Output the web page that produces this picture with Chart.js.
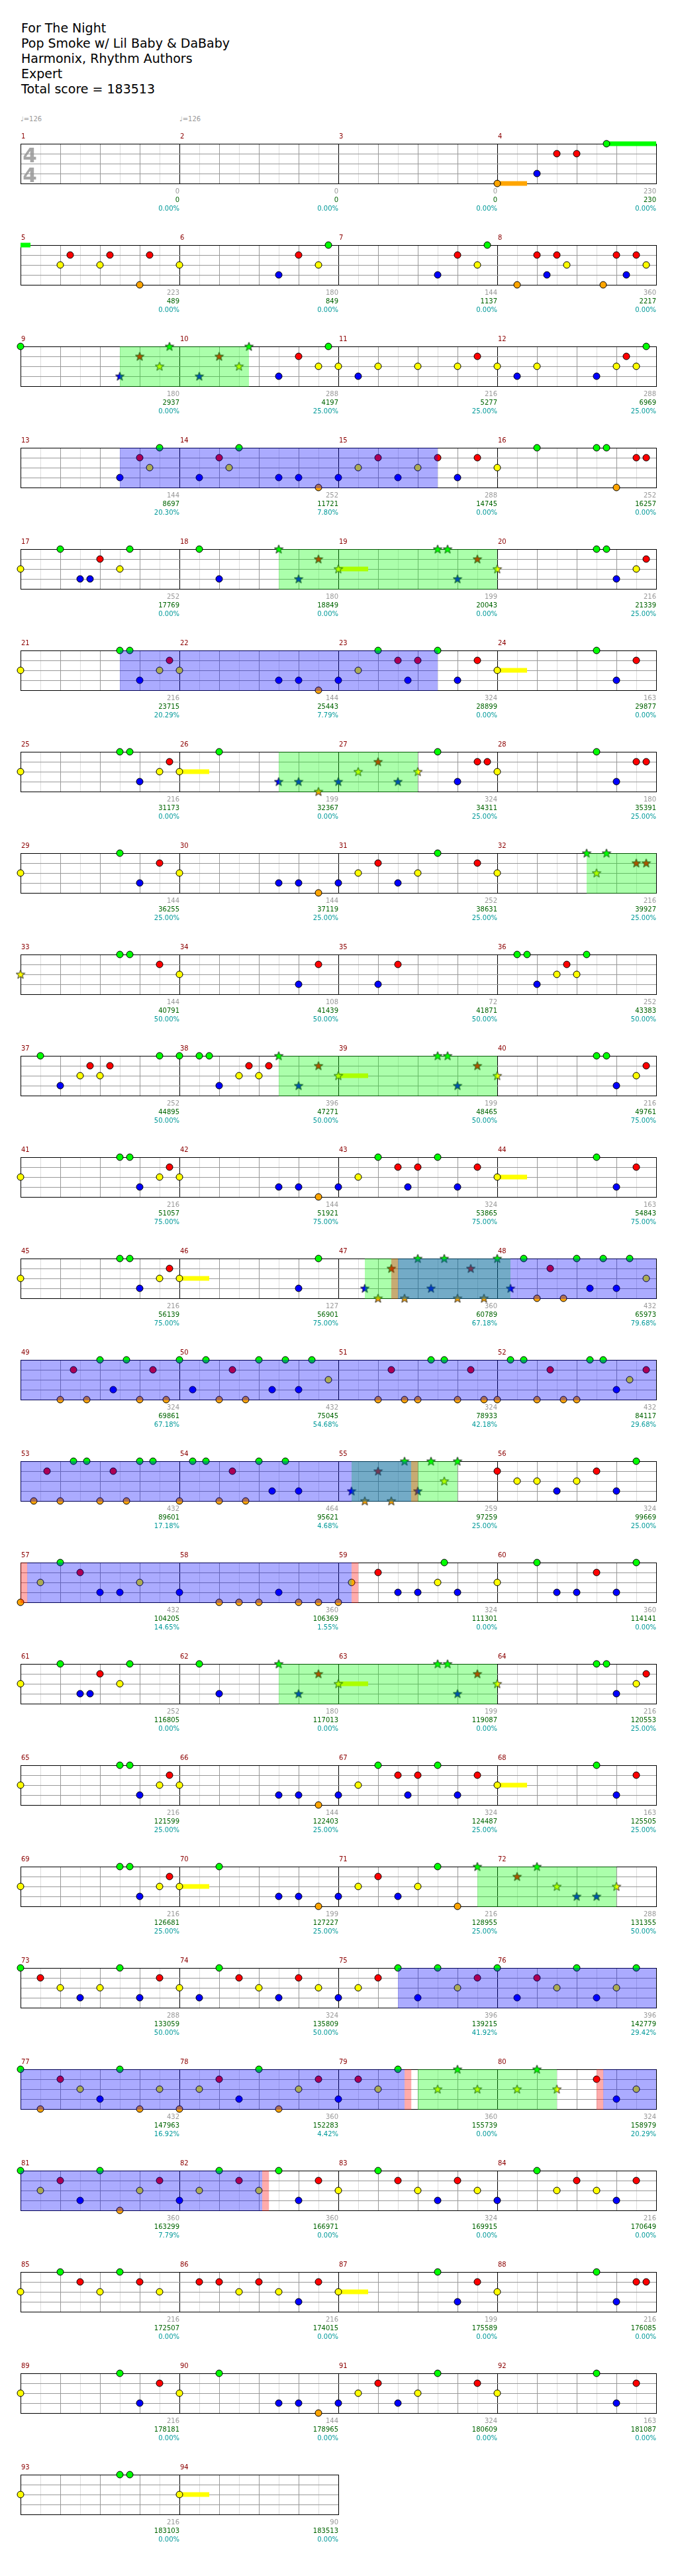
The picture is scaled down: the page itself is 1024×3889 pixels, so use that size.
<!DOCTYPE html>
<html>
<head>
<meta charset="utf-8">
<script src="https://cdn.jsdelivr.net/npm/chart.js@4.4.0/dist/chart.umd.min.js"></script>
<style>
  body { margin: 0; background: #fff; width: 1024px; height: 3889px; position: relative; overflow: hidden; font-family: "DejaVu Sans", sans-serif; }
  #header { position: absolute; left: 32px; top: 31px; font-size: 19px; line-height: 23px; color: #000; white-space: nowrap; }
  .tempo { position: absolute; top: 174px; font-size: 10px; line-height: 12px; color: #999; }
  canvas.row { position: absolute; left: 0; }
</style>
</head>
<body>
<div id="header">For The Night<br>Pop Smoke w/ Lil Baby &amp; DaBaby<br>Harmonix, Rhythm Authors<br>Expert<br>Total score = 183513</div>
<div class="tempo" style="left:31px">&#9833;=126</div>
<div class="tempo" style="left:271px">&#9833;=126</div>
<script>
// one string per measure: lane letter + beat, lower case = star note, ~n = sustain length in beats
const measureNotes = [
  '', '', '', 'O0~0.75 B1 R1.5 R2 G2.75~1.5',
  'Y1 R1.25 Y2 R2.25 O3 R3.25', 'Y0 B2.5 R3 Y3.5 G3.75', 'B2.5 R3 Y3.5 G3.75', 'O0.5 R1 B1.25 R1.5 Y1.75 O2.67 R3 B3.25 R3.5 Y3.75',
  'G0 b2.5 r3 y3.5 g3.75', 'b0.5 r1 y1.5 g1.75 B2.5 R3 Y3.5 G3.75', 'Y0 B0.5 Y1 Y2 Y3 R3.5', 'Y0 B0.5 Y1 B2.5 Y3 R3.25 Y3.5 G3.75',
  'B2.5 R3 Y3.25 G3.5', 'B0.5 R1 Y1.25 G1.5 B2.5 B3 O3.5', 'B0 Y0.5 R1 B1.5 Y2 R2.5 B3 R3.5', 'Y0 G1 G2.5 G2.75 O3 R3.5 R3.75',
  'Y0 G1 B1.5 B1.75 R2 Y2.5 G2.75', 'G0.5 B1 g2.5 b3 r3.5', 'y0~0.75 g2.5 g2.75 b3 r3.5', 'y0 G2.5 G2.75 B3 Y3.5 R3.75',
  'Y0 G2.5 G2.75 B3 Y3.5 R3.75', 'Y0 B2.5 B3 O3.5', 'B0 Y0.5 G1 R1.5 B1.75 R2 G2.5 B3 R3.5', 'Y0~0.75 G2.5 B3 R3.5',
  'Y0 G2.5 G2.75 B3 Y3.5 R3.75', 'Y0~0.75 G1 b2.5 b3 o3.5', 'b0 y0.5 r1 b1.5 y2 G2.5 B3 R3.5 R3.75', 'Y0 G2.5 B3 R3.5 R3.75',
  'Y0 G2.5 B3 R3.5', 'Y0 B2.5 B3 O3.5', 'B0 Y0.5 R1 B1.5 Y2 G2.5 R3.5', 'Y0 g2.25 y2.5 g2.75 r3.5 r3.75',
  'y0 G2.5 G2.75 R3.5', 'Y0 B3 R3.5', 'B1 R1.5', 'G0.5 G0.75 B1 Y1.5 R1.75 Y2 G2.25',
  'G0.5 B1 Y1.5 R1.75 Y2 R2.25 G3.5', 'G0 G0.5 G0.75 B1 Y1.5 R1.75 Y2 R2.25 g2.5 b3 r3.5', 'y0~0.75 g2.5 g2.75 b3 r3.5', 'y0 G2.5 G2.75 B3 Y3.5 R3.75',
  'Y0 G2.5 G2.75 B3 Y3.5 R3.75', 'Y0 B2.5 B3 O3.5', 'B0 Y0.5 G1 R1.5 B1.75 R2 G2.5 B3 R3.5', 'Y0~0.75 G2.5 B3 R3.5',
  'Y0 G2.5 G2.75 B3 Y3.5 R3.75', 'Y0~0.75 B3 G3.5', 'b0.67 o1 r1.33 o1.67 g2 b2.33 g2.67 o3 r3.33 o3.67', 'g0 b0.33 G0.67 O1 R1.33 O1.67 G2 B2.33 G2.67 B3 G3.33 Y3.75',
  'O1 R1.33 O1.67 G2 B2.33 G2.67 O3 R3.33 O3.67', 'G0 B0.33 G0.67 O1 R1.33 O1.67 G2 B2.33 G2.67 B3 G3.33 Y3.75', 'O1 R1.33 O1.67 O2 G2.33 G2.67 O3 R3.33 O3.67', 'O0 G0.33 G0.67 O1 R1.33 O1.67 O2 G2.33 G2.67 B3 Y3.33 R3.75',
  'O0.33 R0.67 O1 G1.33 G1.67 O2 R2.33 O2.67 G3 G3.33', 'O0 G0.33 G0.67 O1 R1.33 O1.67 G2 B2.33 G2.67 B3', 'b0.33 o0.67 r1 o1.33 g1.67 b2 g2.33 y2.67 g3', 'R0 Y0.5 Y1 B1.5 Y2 R2.5 B3 G3.5',
  'O0 Y0.5 G1 R1.5 B2 B2.5 Y3', 'B0 O1 O1.5 O2 B2.5 O3 O3.5', 'O0 Y0.33 R1 B1.5 B2 Y2.5 G2.67 B3', 'Y0 G1 B1.5 B2 R2.5 B3 G3.5',
  'Y0 G1 B1.5 B1.75 R2 Y2.5 G2.75', 'G0.5 B1 g2.5 b3 r3.5', 'y0~0.75 g2.5 g2.75 b3 r3.5', 'y0 G2.5 G2.75 B3 Y3.5 R3.75',
  'Y0 G2.5 G2.75 B3 Y3.5 R3.75', 'Y0 B2.5 B3 O3.5', 'B0 Y0.5 G1 R1.5 B1.75 R2 G2.5 B3 R3.5', 'Y0~0.75 G2.5 B3 R3.5',
  'Y0 G2.5 G2.75 B3 Y3.5 R3.75', 'Y0~0.75 G1 B2.5 B3 O3.5', 'B0 Y0.5 R1 B1.5 Y2 G2.5 O3 g3.5', 'r0.5 g1 y1.5 b2 b2.5 y3',
  'G0 R0.5 Y1 B1.5 Y2 G2.5 B3 R3.5', 'Y0 B0.5 G1 R1.5 Y2 B2.5 R3 Y3.5', 'B0 Y0.5 R1 G1.5 B2 G2.5 Y3 R3.5', 'G0 B0.5 R1 Y1.5 G2 B2.5 Y3 G3.5',
  'G0 O0.5 R1 Y1.5 B2 G2.5 O3 Y3.5', 'O0 Y0.5 R1 B1.5 G2 O2.5 Y3 R3.5', 'B0 R0.5 Y1 G1.5 y2.5 g3 y3.5', 'y0.5 g1 y1.5 R2.5 B3 Y3.5',
  'G0 Y0.5 R1 B1.5 G2 O2.5 Y3 R3.5', 'B0 Y0.5 G1 R1.5 Y2 G2.5 B3 R3.5', 'Y0 G1 R1.5 Y2 B2.5 R3 Y3.5', 'B0 G1 Y1.5 R2 Y2.5 B3 R3.5',
  'Y0 G1 R1.5 Y2 G2.5 R3 Y3.5', 'R0.5 R1 Y1.5 R2 Y2.5 B3 R3.5', 'Y0~0.75 G2.5 B3 R3.5', 'Y0 G2.5 B3 R3.5 R3.75',
  'Y0 G2.5 B3 R3.5', 'Y0 G1 B2.5 B3 O3.5', 'B0 Y0.5 R1 B1.5 Y2 G2.5 R3.5', 'Y0 G2.5 B3 R3.5',
  'Y0 G2.5 G2.75', 'Y0~0.75'
];

const measureScores = [
  0, 0, 0, 230, 223, 180, 144, 360, 180, 288, 216, 288, 144, 252, 288, 252,
  252, 180, 199, 216, 216, 144, 324, 163, 216, 199, 324, 180, 144, 144, 252, 216,
  144, 108, 72, 252, 252, 396, 199, 216, 216, 144, 324, 163, 216, 127, 360, 432,
  324, 432, 324, 432, 432, 464, 259, 324, 432, 360, 324, 360, 252, 180, 199, 216,
  216, 144, 324, 163, 216, 199, 216, 288, 288, 324, 396, 396, 432, 360, 360, 324,
  360, 360, 324, 216, 216, 216, 199, 216, 216, 144, 324, 163, 216, 90
];
const totalScores = [
  0, 0, 0, 230, 489, 849, 1137, 2217, 2937, 4197, 5277, 6969, 8697, 11721, 14745, 16257,
  17769, 18849, 20043, 21339, 23715, 25443, 28899, 29877, 31173, 32367, 34311, 35391, 36255, 37119, 38631, 39927,
  40791, 41439, 41871, 43383, 44895, 47271, 48465, 49761, 51057, 51921, 53865, 54843, 56139, 56901, 60789, 65973,
  69861, 75045, 78933, 84117, 89601, 95621, 97259, 99669, 104205, 106369, 111301, 114141, 116805, 117013, 119087, 120553,
  121599, 122403, 124487, 125505, 126681, 127227, 128955, 131355, 133059, 135809, 139215, 142779, 147963, 152283, 155739, 158979,
  163299, 166971, 169915, 170649, 172507, 174015, 175589, 176085, 178181, 178965, 180609, 181087, 183103, 183513
];
const percents = [
  0, 0, 0, 0, 0, 0, 0, 0, 0, 25, 25, 25, 20.30, 7.80, 0, 0,
  0, 0, 0, 25, 20.29, 7.79, 0, 0, 0, 0, 25, 25, 25, 25, 25, 25,
  50, 50, 50, 50, 50, 50, 50, 75, 75, 75, 75, 75, 75, 75, 67.18, 79.68,
  67.18, 54.68, 42.18, 29.68, 17.18, 4.68, 25, 25, 14.65, 1.55, 0, 0, 0, 0, 0, 25,
  25, 25, 25, 25, 25, 25, 25, 50, 50, 50, 41.92, 29.42, 16.92, 4.42, 0, 20.29,
  7.79, 0, 0, 0, 0, 0, 0, 0, 0, 0, 0, 0, 0, 0
];

// [measure, beat, measure, beat]
const starPhrases = [
  [9, 2.5, 10, 1.75], [18, 2.5, 20, 0], [26, 2.5, 27, 2], [32, 2.25, 33, 0],
  [38, 2.5, 40, 0], [47, 0.67, 48, 0.33], [55, 0.33, 55, 3], [62, 2.5, 64, 0],
  [71, 3.5, 72, 3], [79, 2, 80, 1.5]
];
const activations = [
  [13, 2.5, 15, 2.5], [21, 2.5, 23, 2.5], [47, 1.5, 55, 1.83], [57, 0.17, 59, 0.3],
  [75, 1.5, 79, 1.7], [80, 2.67, 82, 2.1]
];
// [measure, beat] of the red activation marks
const activationMarks = [[47, 1.33], [55, 1.83], [57, 0], [59, 0.3], [79, 1.7], [80, 2.5], [82, 2.1]];

const laneColors = ['#00ff00', '#ff0000', '#ffff00', '#0000ff', '#ffa500'];
const starColors = ['#00ff00', '#ff0000', '#ffff00', '#0000ff', '#ffa500'];

function makeStar(fill) {
  const c = document.createElement('canvas');
  c.width = 15; c.height = 15;
  const g = c.getContext('2d');
  g.beginPath();
  for (let i = 0; i < 10; i++) {
    const rad = i % 2 ? 2.9 : 7;
    const a = -Math.PI / 2 + i * Math.PI / 5;
    g.lineTo(7.5 + rad * Math.cos(a), 8 + rad * Math.sin(a));
  }
  g.closePath();
  g.fillStyle = fill;
  g.fill();
  g.strokeStyle = '#222';
  g.lineWidth = 1;
  g.stroke();
  return c;
}
const starImages = starColors.map(makeStar);

const snap = v => Math.round(v * 12) / 12;
const absBeat = (m, b) => (m - 1) * 4 + snap(b);

const notes = [];
measureNotes.forEach((s, i) => {
  s.split(' ').filter(Boolean).forEach(tok => {
    const m = tok.match(/^([GRYBOgrybo])([\d.]+)(?:~([\d.]+))?$/);
    notes.push({
      beat: i * 4 + snap(+m[2]),
      lane: 'GRYBO'.indexOf(m[1].toUpperCase()),
      star: m[1] !== m[1].toUpperCase(),
      len: m[3] ? +m[3] : 0
    });
  });
});

const ROW_TOP = 190, ROW_STEP = 153, STAFF_TOP = 27, STAFF_H = 60, LEFT = 31, MEASURE_W = 240;
const rowCount = Math.ceil(measureNotes.length / 4);

function clipRegion(list, r0, r1) {
  return list.map(a => [absBeat(a[0], a[1]), absBeat(a[2], a[3])])
    .filter(a => a[1] > r0 && a[0] < r1)
    .map(a => [Math.max(a[0], r0) - r0, Math.min(a[1], r1) - r0]);
}

for (let r = 0; r < rowCount; r++) {
  const firstMeasure = r * 4;
  const n = Math.min(4, measureNotes.length - firstMeasure);
  const r0 = firstMeasure * 4, r1 = r0 + n * 4;

  const rowNotes = notes.filter(p => p.beat >= r0 && p.beat < r1)
    .map(p => ({ x: p.beat - r0, y: p.lane, star: p.star }));

  const sustains = notes.filter(p => p.len > 0 && p.beat + p.len > r0 && p.beat < r1).map(p => ({
    type: 'line',
    data: [{ x: Math.max(p.beat, r0) - r0, y: p.lane }, { x: Math.min(p.beat + p.len, r1) - r0, y: p.lane }],
    borderColor: laneColors[p.lane],
    borderWidth: 7,
    borderCapStyle: 'butt',
    pointRadius: 0,
    clip: false,
    order: 2
  }));

  const greens = clipRegion(starPhrases, r0, r1);
  const blues = clipRegion(activations, r0, r1);
  const marks = activationMarks.map(a => absBeat(a[0], a[1])).filter(b => b >= r0 && b < r1).map(b => b - r0);

  const canvas = document.createElement('canvas');
  canvas.className = 'row';
  canvas.width = 1024;
  canvas.height = ROW_STEP;
  canvas.style.top = (ROW_TOP + r * ROW_STEP) + 'px';
  document.body.appendChild(canvas);

  const overlay = {
    id: 'overlay',
    afterDatasetsDraw(chart) {
      const { ctx, chartArea, scales } = chart;
      const fill = (list, color) => {
        ctx.fillStyle = color;
        list.forEach(a => {
          const x0 = scales.x.getPixelForValue(a[0]), x1 = scales.x.getPixelForValue(a[1]);
          ctx.fillRect(x0, chartArea.top, x1 - x0, chartArea.bottom - chartArea.top + 1);
        });
      };
      ctx.save();
      fill(greens, 'rgba(0,255,0,0.33)');
      fill(blues, 'rgba(0,0,255,0.33)');
      fill(marks.map(b => [b, b + 0.17]), 'rgba(255,0,0,0.33)');
      ctx.restore();
    },
    afterDraw(chart) {
      const { ctx, chartArea, scales } = chart;
      ctx.save();
      ctx.font = '10px "DejaVu Sans"';
      ctx.textBaseline = 'middle';
      for (let k = 0; k < n; k++) {
        const mi = firstMeasure + k;
        const xs = scales.x.getPixelForValue(k * 4), xe = scales.x.getPixelForValue(k * 4 + 4);
        ctx.textAlign = 'left';
        ctx.fillStyle = '#8b0000';
        ctx.fillText(String(mi + 1), xs + 1, chartArea.top - 11);
        ctx.textAlign = 'right';
        ctx.fillStyle = '#999999';
        ctx.fillText(String(measureScores[mi]), xe, chartArea.bottom + 12);
        ctx.fillStyle = '#006400';
        ctx.fillText(String(totalScores[mi]), xe, chartArea.bottom + 25);
        ctx.fillStyle = '#009999';
        ctx.fillText(percents[mi].toFixed(2) + '%', xe, chartArea.bottom + 38);
      }
      if (r === 0) {
        ctx.font = 'bold 31px "DejaVu Sans"';
        ctx.textAlign = 'center';
        ctx.textBaseline = 'alphabetic';
        ctx.fillStyle = 'rgba(150,150,150,0.85)';
        ctx.fillText('4', chartArea.left + 14, chartArea.top + 28);
        ctx.fillText('4', chartArea.left + 14, chartArea.top + 58);
      }
      ctx.restore();
    }
  };

  new Chart(canvas, {
    type: 'scatter',
    data: {
      datasets: [{
        data: rowNotes,
        pointStyle: c => c.raw && c.raw.star ? starImages[c.raw.y] : 'circle',
        pointRadius: 5,
        pointBackgroundColor: c => c.raw ? laneColors[c.raw.y] : '#000',
        pointBorderColor: '#000',
        pointBorderWidth: 1,
        clip: false,
        order: 1
      }, ...sustains]
    },
    options: {
      responsive: false,
      animation: false,
      events: [],
      layout: { padding: { left: LEFT, right: 1024 - LEFT - n * MEASURE_W, top: STAFF_TOP, bottom: ROW_STEP - STAFF_TOP - STAFF_H } },
      plugins: { legend: { display: false }, tooltip: { enabled: false } },
      scales: {
        x: {
          type: 'linear', min: 0, max: n * 4,
          ticks: { stepSize: 0.5, display: false },
          grid: {
            drawTicks: false,
            color: c => c.tick.value % 4 === 0 ? '#000' : (Number.isInteger(c.tick.value) ? '#999' : '#dddddd')
          },
          border: { color: '#000' },
          afterFit: s => { s.height = 0; }
        },
        y: {
          min: 0, max: 4, reverse: true,
          ticks: { stepSize: 1, display: false },
          grid: {
            drawTicks: false,
            color: c => (c.tick.value === 0 || c.tick.value === 4) ? '#000' : '#999'
          },
          border: { color: '#000' },
          afterFit: s => { s.width = 0; }
        }
      }
    },
    plugins: [overlay]
  });
}
</script>
</body>
</html>
